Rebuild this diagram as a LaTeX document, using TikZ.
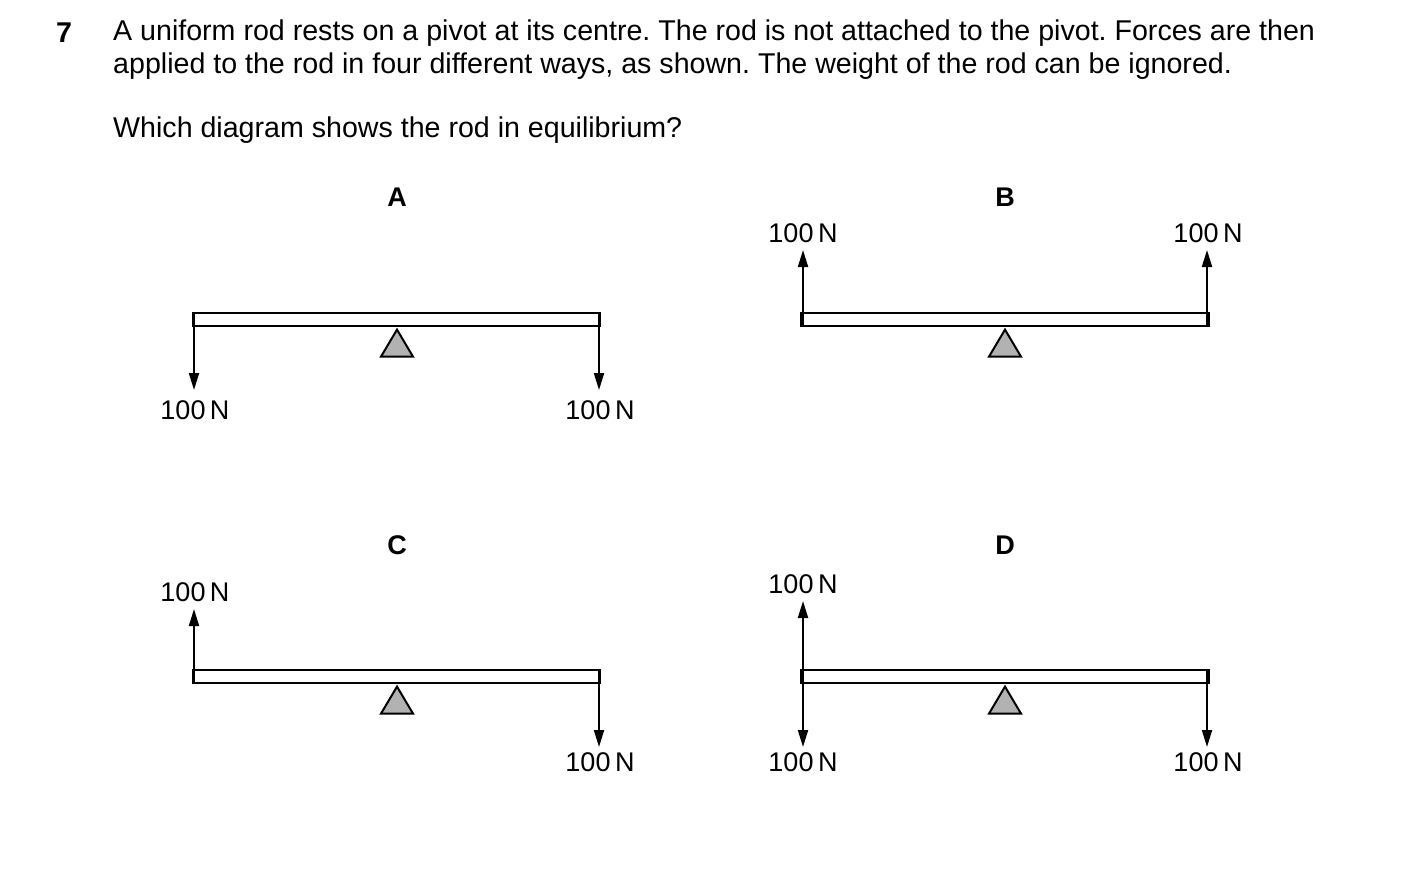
\documentclass[tikz,border=0pt]{standalone}
\usepackage{fontspec}
\setmainfont{Liberation Sans}
\usetikzlibrary{arrows.meta,shapes.geometric}
\frenchspacing
\begin{document}
\begin{tikzpicture}[x=1pt,y=-1pt,
    rod/.style={draw, line width=2.4pt, fill=white, minimum width=407pt, minimum height=13pt, inner sep=0pt},
    pivot/.style={draw, line width=2pt, fill=gray!60, isosceles triangle, shape border rotate=90,
      isosceles triangle stretches, minimum height=27pt, minimum width=32pt, inner sep=0pt, anchor=apex},
    force/.style={line width=2pt, -{Triangle[length=17pt,width=10pt]}},
    lbl/.style={font=\fontsize{27}{32}\selectfont, inner sep=0pt},
    head/.style={font=\fontsize{27}{32}\selectfont\bfseries, inner sep=0pt},
    txt/.style={font=\fontsize{28.6}{33}\selectfont, inner sep=0pt, anchor=west}]
\useasboundingbox (0,0) rectangle (1403,875);
\node[txt, font=\fontsize{28.6}{33}\selectfont\bfseries] (num) at (56,33) {7};
\node[txt] (l1) at (113,33) {A uniform rod rests on a pivot at its centre. The rod is not attached to the pivot. Forces are then};
\node[txt] (l2) at (113,66) {applied to the rod in four different ways, as shown. The weight of the rod can be ignored.};
\node[txt] (l3) at (113,130) {Which diagram shows the rod in equilibrium?};

% A
\node[head] (tA) at (397,197) {A};
\node[rod] (rA) at (396.5,319.5) {};
\node[pivot] (pA) at (397,327) {};
\coordinate (sA1) at (194,313);
\coordinate (sA2) at (599,313);
\coordinate (aA1) at (194,390);
\coordinate (aA2) at (599,390);
\draw[force] (sA1) -- (aA1);
\draw[force] (sA2) -- (aA2);
\node[lbl] (fA1) at (195,410) {100\,N};
\node[lbl] (fA2) at (600,410) {100\,N};

% B
\node[head] (tB) at (1005,197) {B};
\node[rod] (rB) at (1005,319.5) {};
\node[pivot] (pB) at (1005,327) {};
\coordinate (sB1) at (803,326);
\coordinate (sB2) at (1207,326);
\coordinate (aB1) at (803,250);
\coordinate (aB2) at (1207,250);
\draw[force] (sB1) -- (aB1);
\draw[force] (sB2) -- (aB2);
\node[lbl] (fB1) at (803,233) {100\,N};
\node[lbl] (fB2) at (1208,233) {100\,N};

% C
\node[head] (tC) at (397,545) {C};
\node[rod] (rC) at (396.5,676.5) {};
\node[pivot] (pC) at (397,684) {};
\coordinate (sC1) at (194,683);
\coordinate (sC2) at (599,670);
\coordinate (aC1) at (194,609);
\coordinate (aC2) at (599,747);
\draw[force] (sC1) -- (aC1);
\draw[force] (sC2) -- (aC2);
\node[lbl] (fC1) at (195,592) {100\,N};
\node[lbl] (fC2) at (600,762) {100\,N};

% D
\node[head] (tD) at (1005,545) {D};
\node[rod] (rD) at (1005,676.5) {};
\node[pivot] (pD) at (1005,684) {};
\coordinate (sD1) at (803,683);
\coordinate (sD2) at (803,670);
\coordinate (sD3) at (1207,670);
\coordinate (aD1) at (803,601);
\coordinate (aD2) at (803,747);
\coordinate (aD3) at (1207,747);
\draw[force] (sD1) -- (aD1);
\draw[force] (sD2) -- (aD2);
\draw[force] (sD3) -- (aD3);
\node[lbl] (fD1) at (803,584) {100\,N};
\node[lbl] (fD2) at (803,762) {100\,N};
\node[lbl] (fD3) at (1208,762) {100\,N};
\end{tikzpicture}
\end{document}
